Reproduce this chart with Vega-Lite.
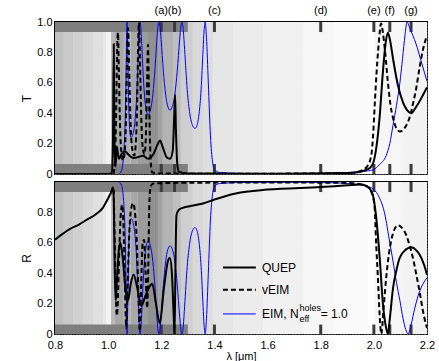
{
"$schema":"https://vega.github.io/schema/vega-lite/v6.json",
"padding":{"left":19,"top":4,"right":5,"bottom":0},
"spacing":8,
"bounds":"flush",
"datasets":{
"bg":[{"a":0.8,"b":0.83,"g":0.76},{"a":0.83,"b":0.868,"g":0.79},{"a":0.868,"b":0.905,"g":0.82},{"a":0.905,"b":0.943,"g":0.85},{"a":0.943,"b":0.981,"g":0.88},{"a":0.981,"b":0.992,"g":0.91},{"a":0.992,"b":1.011,"g":0.95},{"a":1.011,"b":1.026,"g":0.72},{"a":1.026,"b":1.056,"g":0.66},{"a":1.056,"b":1.085,"g":0.69},{"a":1.085,"b":1.112,"g":0.66},{"a":1.112,"b":1.15,"g":0.61},{"a":1.15,"b":1.188,"g":0.57},{"a":1.188,"b":1.206,"g":0.63},{"a":1.206,"b":1.244,"g":0.7},{"a":1.244,"b":1.274,"g":0.75},{"a":1.274,"b":1.319,"g":0.81},{"a":1.319,"b":1.357,"g":0.85},{"a":1.357,"b":1.395,"g":0.87},{"a":1.395,"b":1.47,"g":0.9},{"a":1.47,"b":1.583,"g":0.925},{"a":1.583,"b":1.733,"g":0.945},{"a":1.733,"b":1.846,"g":0.965},{"a":1.846,"b":1.978,"g":0.98},{"a":1.978,"b":2.004,"g":1.0},{"a":2.004,"b":2.11,"g":0.965},{"a":2.11,"b":2.2,"g":0.95}],
"marks":[{"lab":"(a)","x":1.2},{"lab":"(b)","x":1.25},{"lab":"(c)","x":1.4},{"lab":"(d)","x":1.8},{"lab":"(e)","x":2.0},{"lab":"(f)","x":2.06},{"lab":"(g)","x":2.14}],
"T":[
{"s":"QUEP","x":0.8,"y":0},{"s":"QUEP","x":1.0,"y":0},{"s":"QUEP","x":1.014,"y":0.005},{"s":"QUEP","x":1.018,"y":0.2},{"s":"QUEP","x":1.021,"y":0.855},{"s":"QUEP","x":1.024,"y":0.2},{"s":"QUEP","x":1.027,"y":0.05},{"s":"QUEP","x":1.03,"y":0.1},{"s":"QUEP","x":1.033,"y":0.18},{"s":"QUEP","x":1.037,"y":0.13},{"s":"QUEP","x":1.041,"y":0.1},{"s":"QUEP","x":1.05,"y":0.13},{"s":"QUEP","x":1.063,"y":0.15},{"s":"QUEP","x":1.075,"y":0.13},{"s":"QUEP","x":1.094,"y":0.105},{"s":"QUEP","x":1.11,"y":0.11},{"s":"QUEP","x":1.131,"y":0.12},{"s":"QUEP","x":1.15,"y":0.1},{"s":"QUEP","x":1.17,"y":0.13},{"s":"QUEP","x":1.185,"y":0.19},{"s":"QUEP","x":1.195,"y":0.22},{"s":"QUEP","x":1.205,"y":0.18},{"s":"QUEP","x":1.22,"y":0.11},{"s":"QUEP","x":1.233,"y":0.1},{"s":"QUEP","x":1.243,"y":0.15},{"s":"QUEP","x":1.249,"y":0.4},{"s":"QUEP","x":1.252,"y":0.52},{"s":"QUEP","x":1.255,"y":0.3},{"s":"QUEP","x":1.26,"y":0.07},{"s":"QUEP","x":1.266,"y":0.015},{"s":"QUEP","x":1.3,"y":0.004},{"s":"QUEP","x":1.6,"y":0.002},{"s":"QUEP","x":1.9,"y":0.006},{"s":"QUEP","x":1.95,"y":0.015},{"s":"QUEP","x":1.975,"y":0.03},{"s":"QUEP","x":1.985,"y":0.04},{"s":"QUEP","x":1.997,"y":0.07},{"s":"QUEP","x":2.009,"y":0.17},{"s":"QUEP","x":2.022,"y":0.38},{"s":"QUEP","x":2.034,"y":0.67},{"s":"QUEP","x":2.045,"y":0.87},{"s":"QUEP","x":2.053,"y":0.93},{"s":"QUEP","x":2.062,"y":0.87},{"s":"QUEP","x":2.072,"y":0.76},{"s":"QUEP","x":2.091,"y":0.58},{"s":"QUEP","x":2.11,"y":0.47},{"s":"QUEP","x":2.125,"y":0.42},{"s":"QUEP","x":2.141,"y":0.4},{"s":"QUEP","x":2.155,"y":0.43},{"s":"QUEP","x":2.166,"y":0.46},{"s":"QUEP","x":2.185,"y":0.52},{"s":"QUEP","x":2.2,"y":0.57},
{"s":"vEIM","x":1.02,"y":0},{"s":"vEIM","x":1.026,"y":0.1},{"s":"vEIM","x":1.03,"y":0.4},{"s":"vEIM","x":1.034,"y":0.82},{"s":"vEIM","x":1.037,"y":0.93},{"s":"vEIM","x":1.04,"y":0.7},{"s":"vEIM","x":1.045,"y":0.3},{"s":"vEIM","x":1.05,"y":0.14},{"s":"vEIM","x":1.056,"y":0.09},{"s":"vEIM","x":1.062,"y":0.14},{"s":"vEIM","x":1.067,"y":0.35},{"s":"vEIM","x":1.071,"y":0.75},{"s":"vEIM","x":1.075,"y":0.96},{"s":"vEIM","x":1.079,"y":0.7},{"s":"vEIM","x":1.085,"y":0.3},{"s":"vEIM","x":1.092,"y":0.15},{"s":"vEIM","x":1.098,"y":0.12},{"s":"vEIM","x":1.104,"y":0.2},{"s":"vEIM","x":1.109,"y":0.45},{"s":"vEIM","x":1.113,"y":0.85},{"s":"vEIM","x":1.116,"y":1.0},{"s":"vEIM","x":1.119,"y":0.8},{"s":"vEIM","x":1.125,"y":0.35},{"s":"vEIM","x":1.131,"y":0.16},{"s":"vEIM","x":1.137,"y":0.13},{"s":"vEIM","x":1.142,"y":0.25},{"s":"vEIM","x":1.146,"y":0.55},{"s":"vEIM","x":1.15,"y":0.85},{"s":"vEIM","x":1.153,"y":0.6},{"s":"vEIM","x":1.157,"y":0.25},{"s":"vEIM","x":1.161,"y":0.06},{"s":"vEIM","x":1.166,"y":0.01},{"s":"vEIM","x":1.2,"y":0.003},{"s":"vEIM","x":1.5,"y":0.002},{"s":"vEIM","x":1.9,"y":0.005},{"s":"vEIM","x":1.95,"y":0.02},{"s":"vEIM","x":1.975,"y":0.05},{"s":"vEIM","x":1.99,"y":0.12},{"s":"vEIM","x":1.997,"y":0.25},{"s":"vEIM","x":2.004,"y":0.48},{"s":"vEIM","x":2.01,"y":0.66},{"s":"vEIM","x":2.016,"y":0.81},{"s":"vEIM","x":2.022,"y":0.93},{"s":"vEIM","x":2.027,"y":0.99},{"s":"vEIM","x":2.034,"y":0.93},{"s":"vEIM","x":2.042,"y":0.81},{"s":"vEIM","x":2.053,"y":0.6},{"s":"vEIM","x":2.063,"y":0.45},{"s":"vEIM","x":2.072,"y":0.37},{"s":"vEIM","x":2.085,"y":0.3},{"s":"vEIM","x":2.098,"y":0.28},{"s":"vEIM","x":2.11,"y":0.29},{"s":"vEIM","x":2.125,"y":0.33},{"s":"vEIM","x":2.136,"y":0.38},{"s":"vEIM","x":2.147,"y":0.46},{"s":"vEIM","x":2.16,"y":0.57},{"s":"vEIM","x":2.173,"y":0.71},{"s":"vEIM","x":2.185,"y":0.82},{"s":"vEIM","x":2.196,"y":0.89},{"s":"vEIM","x":2.2,"y":0.91},
{"s":"EIM","x":1.04,"y":0},{"s":"EIM","x":1.05,"y":0.02},{"s":"EIM","x":1.058,"y":0.12},{"s":"EIM","x":1.064,"y":0.35},{"s":"EIM","x":1.068,"y":0.7},{"s":"EIM","x":1.071,"y":1.0},{"s":"EIM","x":1.074,"y":0.77},{"s":"EIM","x":1.077,"y":0.48},{"s":"EIM","x":1.08,"y":0.325},{"s":"EIM","x":1.083,"y":0.26},{"s":"EIM","x":1.086,"y":0.24},{"s":"EIM","x":1.0928,"y":0.26},{"s":"EIM","x":1.0996,"y":0.325},{"s":"EIM","x":1.1064,"y":0.48},{"s":"EIM","x":1.1132,"y":0.77},{"s":"EIM","x":1.1166,"y":0.93},{"s":"EIM","x":1.12,"y":1.0},{"s":"EIM","x":1.123,"y":0.963},{"s":"EIM","x":1.126,"y":0.87},{"s":"EIM","x":1.132,"y":0.65},{"s":"EIM","x":1.138,"y":0.494},{"s":"EIM","x":1.144,"y":0.414},{"s":"EIM","x":1.15,"y":0.39},{"s":"EIM","x":1.1582,"y":0.414},{"s":"EIM","x":1.1664,"y":0.494},{"s":"EIM","x":1.1746,"y":0.65},{"s":"EIM","x":1.1828,"y":0.87},{"s":"EIM","x":1.1869,"y":0.963},{"s":"EIM","x":1.191,"y":1.0},{"s":"EIM","x":1.1952,"y":0.967},{"s":"EIM","x":1.1994,"y":0.883},{"s":"EIM","x":1.2078,"y":0.677},{"s":"EIM","x":1.2162,"y":0.525},{"s":"EIM","x":1.2246,"y":0.444},{"s":"EIM","x":1.233,"y":0.42},{"s":"EIM","x":1.242,"y":0.444},{"s":"EIM","x":1.251,"y":0.525},{"s":"EIM","x":1.26,"y":0.677},{"s":"EIM","x":1.269,"y":0.883},{"s":"EIM","x":1.2735,"y":0.967},{"s":"EIM","x":1.278,"y":1.0},{"s":"EIM","x":1.2829,"y":0.946},{"s":"EIM","x":1.2878,"y":0.818},{"s":"EIM","x":1.2976,"y":0.554},{"s":"EIM","x":1.3074,"y":0.396},{"s":"EIM","x":1.3172,"y":0.321},{"s":"EIM","x":1.327,"y":0.3},{"s":"EIM","x":1.3346,"y":0.321},{"s":"EIM","x":1.3422,"y":0.396},{"s":"EIM","x":1.3498,"y":0.554},{"s":"EIM","x":1.3574,"y":0.818},{"s":"EIM","x":1.3612,"y":0.946},{"s":"EIM","x":1.365,"y":1.0},{"s":"EIM","x":1.37,"y":0.9},{"s":"EIM","x":1.377,"y":0.6},{"s":"EIM","x":1.385,"y":0.25},{"s":"EIM","x":1.393,"y":0.08},{"s":"EIM","x":1.4,"y":0.03},{"s":"EIM","x":1.42,"y":0.01},{"s":"EIM","x":1.5,"y":0.003},{"s":"EIM","x":1.7,"y":0.002},{"s":"EIM","x":1.85,"y":0.005},{"s":"EIM","x":1.9,"y":0.01},{"s":"EIM","x":1.95,"y":0.015},{"s":"EIM","x":1.975,"y":0.02},{"s":"EIM","x":2.0,"y":0.03},{"s":"EIM","x":2.02,"y":0.06},{"s":"EIM","x":2.046,"y":0.12},{"s":"EIM","x":2.06,"y":0.2},{"s":"EIM","x":2.072,"y":0.32},{"s":"EIM","x":2.085,"y":0.45},{"s":"EIM","x":2.098,"y":0.6},{"s":"EIM","x":2.108,"y":0.76},{"s":"EIM","x":2.117,"y":0.91},{"s":"EIM","x":2.125,"y":1.0},{"s":"EIM","x":2.135,"y":0.96},{"s":"EIM","x":2.147,"y":0.91},{"s":"EIM","x":2.159,"y":0.855},{"s":"EIM","x":2.175,"y":0.76},{"s":"EIM","x":2.19,"y":0.67},{"s":"EIM","x":2.2,"y":0.61}
],
"R":[
{"s":"QUEP","x":0.8,"y":0.62},{"s":"QUEP","x":0.83,"y":0.66},{"s":"QUEP","x":0.855,"y":0.69},{"s":"QUEP","x":0.89,"y":0.72},{"s":"QUEP","x":0.918,"y":0.75},{"s":"QUEP","x":0.955,"y":0.79},{"s":"QUEP","x":0.98,"y":0.83},{"s":"QUEP","x":0.993,"y":0.87},{"s":"QUEP","x":1.005,"y":0.91},{"s":"QUEP","x":1.012,"y":0.935},{"s":"QUEP","x":1.018,"y":0.965},{"s":"QUEP","x":1.021,"y":0.9},{"s":"QUEP","x":1.024,"y":0.5},{"s":"QUEP","x":1.028,"y":0.22},{"s":"QUEP","x":1.033,"y":0.35},{"s":"QUEP","x":1.04,"y":0.55},{"s":"QUEP","x":1.046,"y":0.6},{"s":"QUEP","x":1.055,"y":0.5},{"s":"QUEP","x":1.065,"y":0.3},{"s":"QUEP","x":1.075,"y":0.22},{"s":"QUEP","x":1.085,"y":0.33},{"s":"QUEP","x":1.096,"y":0.39},{"s":"QUEP","x":1.11,"y":0.3},{"s":"QUEP","x":1.125,"y":0.185},{"s":"QUEP","x":1.14,"y":0.25},{"s":"QUEP","x":1.155,"y":0.31},{"s":"QUEP","x":1.166,"y":0.33},{"s":"QUEP","x":1.18,"y":0.2},{"s":"QUEP","x":1.194,"y":0.07},{"s":"QUEP","x":1.21,"y":0.3},{"s":"QUEP","x":1.225,"y":0.48},{"s":"QUEP","x":1.232,"y":0.5},{"s":"QUEP","x":1.24,"y":0.4},{"s":"QUEP","x":1.246,"y":0.15},{"s":"QUEP","x":1.25,"y":0.0},{"s":"QUEP","x":1.253,"y":0.4},{"s":"QUEP","x":1.257,"y":0.78},{"s":"QUEP","x":1.265,"y":0.815},{"s":"QUEP","x":1.28,"y":0.83},{"s":"QUEP","x":1.32,"y":0.845},{"s":"QUEP","x":1.36,"y":0.86},{"s":"QUEP","x":1.4,"y":0.885},{"s":"QUEP","x":1.48,"y":0.925},{"s":"QUEP","x":1.6,"y":0.95},{"s":"QUEP","x":1.8,"y":0.967},{"s":"QUEP","x":1.9,"y":0.978},{"s":"QUEP","x":1.95,"y":0.983},{"s":"QUEP","x":1.97,"y":0.975},{"s":"QUEP","x":1.985,"y":0.955},{"s":"QUEP","x":1.997,"y":0.91},{"s":"QUEP","x":2.008,"y":0.78},{"s":"QUEP","x":2.022,"y":0.5},{"s":"QUEP","x":2.034,"y":0.2},{"s":"QUEP","x":2.045,"y":0.05},{"s":"QUEP","x":2.053,"y":0.0},{"s":"QUEP","x":2.06,"y":0.1},{"s":"QUEP","x":2.072,"y":0.3},{"s":"QUEP","x":2.085,"y":0.42},{"s":"QUEP","x":2.097,"y":0.5},{"s":"QUEP","x":2.12,"y":0.555},{"s":"QUEP","x":2.141,"y":0.57},{"s":"QUEP","x":2.16,"y":0.55},{"s":"QUEP","x":2.173,"y":0.52},{"s":"QUEP","x":2.19,"y":0.45},{"s":"QUEP","x":2.2,"y":0.39},
{"s":"vEIM","x":1.021,"y":0.95},{"s":"vEIM","x":1.025,"y":0.6},{"s":"vEIM","x":1.029,"y":0.25},{"s":"vEIM","x":1.033,"y":0.12},{"s":"vEIM","x":1.037,"y":0.25},{"s":"vEIM","x":1.042,"y":0.55},{"s":"vEIM","x":1.048,"y":0.8},{"s":"vEIM","x":1.053,"y":0.85},{"s":"vEIM","x":1.058,"y":0.7},{"s":"vEIM","x":1.063,"y":0.35},{"s":"vEIM","x":1.068,"y":0.04},{"s":"vEIM","x":1.073,"y":0.3},{"s":"vEIM","x":1.08,"y":0.68},{"s":"vEIM","x":1.087,"y":0.83},{"s":"vEIM","x":1.094,"y":0.86},{"s":"vEIM","x":1.101,"y":0.8},{"s":"vEIM","x":1.108,"y":0.6},{"s":"vEIM","x":1.114,"y":0.25},{"s":"vEIM","x":1.119,"y":0.02},{"s":"vEIM","x":1.124,"y":0.3},{"s":"vEIM","x":1.13,"y":0.6},{"s":"vEIM","x":1.135,"y":0.62},{"s":"vEIM","x":1.141,"y":0.4},{"s":"vEIM","x":1.147,"y":0.17},{"s":"vEIM","x":1.151,"y":0.45},{"s":"vEIM","x":1.155,"y":0.85},{"s":"vEIM","x":1.16,"y":0.97},{"s":"vEIM","x":1.17,"y":0.99},{"s":"vEIM","x":1.3,"y":0.995},{"s":"vEIM","x":1.6,"y":0.997},{"s":"vEIM","x":1.9,"y":0.994},{"s":"vEIM","x":1.95,"y":0.985},{"s":"vEIM","x":1.975,"y":0.97},{"s":"vEIM","x":1.989,"y":0.94},{"s":"vEIM","x":1.997,"y":0.9},{"s":"vEIM","x":2.003,"y":0.83},{"s":"vEIM","x":2.008,"y":0.62},{"s":"vEIM","x":2.015,"y":0.38},{"s":"vEIM","x":2.022,"y":0.12},{"s":"vEIM","x":2.028,"y":0.0},{"s":"vEIM","x":2.037,"y":0.18},{"s":"vEIM","x":2.047,"y":0.38},{"s":"vEIM","x":2.057,"y":0.53},{"s":"vEIM","x":2.066,"y":0.62},{"s":"vEIM","x":2.078,"y":0.69},{"s":"vEIM","x":2.091,"y":0.715},{"s":"vEIM","x":2.105,"y":0.7},{"s":"vEIM","x":2.122,"y":0.65},{"s":"vEIM","x":2.135,"y":0.58},{"s":"vEIM","x":2.147,"y":0.5},{"s":"vEIM","x":2.16,"y":0.39},{"s":"vEIM","x":2.173,"y":0.27},{"s":"vEIM","x":2.185,"y":0.15},{"s":"vEIM","x":2.191,"y":0.1},{"s":"vEIM","x":2.2,"y":0.04},
{"s":"EIM","x":1.04,"y":1.0},{"s":"EIM","x":1.05,"y":0.98},{"s":"EIM","x":1.058,"y":0.88},{"s":"EIM","x":1.064,"y":0.65},{"s":"EIM","x":1.068,"y":0.3},{"s":"EIM","x":1.071,"y":0},{"s":"EIM","x":1.074,"y":0.23},{"s":"EIM","x":1.077,"y":0.52},{"s":"EIM","x":1.08,"y":0.675},{"s":"EIM","x":1.083,"y":0.74},{"s":"EIM","x":1.086,"y":0.76},{"s":"EIM","x":1.0928,"y":0.74},{"s":"EIM","x":1.0996,"y":0.675},{"s":"EIM","x":1.1064,"y":0.52},{"s":"EIM","x":1.1132,"y":0.23},{"s":"EIM","x":1.1166,"y":0.07},{"s":"EIM","x":1.12,"y":0},{"s":"EIM","x":1.123,"y":0.037},{"s":"EIM","x":1.126,"y":0.13},{"s":"EIM","x":1.132,"y":0.35},{"s":"EIM","x":1.138,"y":0.506},{"s":"EIM","x":1.144,"y":0.586},{"s":"EIM","x":1.15,"y":0.61},{"s":"EIM","x":1.1582,"y":0.586},{"s":"EIM","x":1.1664,"y":0.506},{"s":"EIM","x":1.1746,"y":0.35},{"s":"EIM","x":1.1828,"y":0.13},{"s":"EIM","x":1.1869,"y":0.037},{"s":"EIM","x":1.191,"y":0},{"s":"EIM","x":1.1952,"y":0.033},{"s":"EIM","x":1.1994,"y":0.117},{"s":"EIM","x":1.2078,"y":0.323},{"s":"EIM","x":1.2162,"y":0.475},{"s":"EIM","x":1.2246,"y":0.556},{"s":"EIM","x":1.233,"y":0.58},{"s":"EIM","x":1.242,"y":0.556},{"s":"EIM","x":1.251,"y":0.475},{"s":"EIM","x":1.26,"y":0.323},{"s":"EIM","x":1.269,"y":0.117},{"s":"EIM","x":1.2735,"y":0.033},{"s":"EIM","x":1.278,"y":0},{"s":"EIM","x":1.2829,"y":0.054},{"s":"EIM","x":1.2878,"y":0.182},{"s":"EIM","x":1.2976,"y":0.446},{"s":"EIM","x":1.3074,"y":0.604},{"s":"EIM","x":1.3172,"y":0.679},{"s":"EIM","x":1.327,"y":0.7},{"s":"EIM","x":1.3346,"y":0.679},{"s":"EIM","x":1.3422,"y":0.604},{"s":"EIM","x":1.3498,"y":0.446},{"s":"EIM","x":1.3574,"y":0.182},{"s":"EIM","x":1.3612,"y":0.054},{"s":"EIM","x":1.365,"y":0},{"s":"EIM","x":1.37,"y":0.1},{"s":"EIM","x":1.377,"y":0.4},{"s":"EIM","x":1.385,"y":0.75},{"s":"EIM","x":1.393,"y":0.92},{"s":"EIM","x":1.4,"y":0.97},{"s":"EIM","x":1.42,"y":0.99},{"s":"EIM","x":1.5,"y":0.997},{"s":"EIM","x":1.7,"y":0.998},{"s":"EIM","x":1.85,"y":0.995},{"s":"EIM","x":1.9,"y":0.99},{"s":"EIM","x":1.95,"y":0.982},{"s":"EIM","x":1.98,"y":0.97},{"s":"EIM","x":2.0,"y":0.95},{"s":"EIM","x":2.02,"y":0.9},{"s":"EIM","x":2.041,"y":0.79},{"s":"EIM","x":2.06,"y":0.6},{"s":"EIM","x":2.072,"y":0.48},{"s":"EIM","x":2.085,"y":0.34},{"s":"EIM","x":2.098,"y":0.22},{"s":"EIM","x":2.11,"y":0.1},{"s":"EIM","x":2.12,"y":0.03},{"s":"EIM","x":2.129,"y":0},{"s":"EIM","x":2.14,"y":0.06},{"s":"EIM","x":2.154,"y":0.17},{"s":"EIM","x":2.17,"y":0.27},{"s":"EIM","x":2.185,"y":0.33},{"s":"EIM","x":2.2,"y":0.37}
]
},
"vconcat":[
{
"width":372,"height":152,
"layer":[
{"data":{"name":"bg"},"mark":{"type":"rect"},
 "encoding":{
  "x":{"field":"a","type":"quantitative","scale":{"domain":[0.8,2.2],"nice":false,"zero":false},"axis":{"orient":"top","values":[0.8,1,1.2,1.4,1.6,1.8,2,2.2],"labels":false,"title":null}},
  "x2":{"field":"b"},
  "y":{"datum":0,"type":"quantitative","scale":{"domain":[0,1],"nice":false},"axis":{"values":[0,0.2,0.4,0.6,0.8,1],"labelExpr":"datum.value == 0 ? '0' : format(datum.value, '.1f')","title":"T","labelOverlap":false}},
  "y2":{"datum":1},
  "color":{"field":"g","type":"quantitative","scale":{"domain":[0,1],"range":["#000000","#ffffff"],"interpolate":"rgb"},"legend":null}}},
{"data":{"values":[{}]},"mark":{"type":"rect","color":"#7f7f7f"},"encoding":{"x":{"datum":0.8,"type":"quantitative","axis":{"orient":"top","values":[0.8,1,1.2,1.4,1.6,1.8,2,2.2],"labels":false,"title":null}},"x2":{"datum":1.3},"y":{"datum":0.934,"type":"quantitative","axis":{"values":[0,0.2,0.4,0.6,0.8,1],"labelExpr":"datum.value == 0 ? '0' : format(datum.value, '.1f')","title":"T","labelOverlap":false}},"y2":{"datum":1}}},
{"data":{"values":[{}]},"mark":{"type":"rect","color":"#7f7f7f"},"encoding":{"x":{"datum":0.8,"type":"quantitative","axis":{"orient":"top","values":[0.8,1,1.2,1.4,1.6,1.8,2,2.2],"labels":false,"title":null}},"x2":{"datum":1.3},"y":{"datum":0,"type":"quantitative","axis":{"values":[0,0.2,0.4,0.6,0.8,1],"labelExpr":"datum.value == 0 ? '0' : format(datum.value, '.1f')","title":"T","labelOverlap":false}},"y2":{"datum":0.066}}},
{"data":{"name":"marks"},"mark":{"type":"rule","color":"#3c3c3c","strokeWidth":3},"encoding":{"x":{"field":"x","type":"quantitative","axis":{"orient":"top","values":[0.8,1,1.2,1.4,1.6,1.8,2,2.2],"labels":false,"title":null}},"y":{"datum":0.934,"type":"quantitative","axis":{"values":[0,0.2,0.4,0.6,0.8,1],"labelExpr":"datum.value == 0 ? '0' : format(datum.value, '.1f')","title":"T","labelOverlap":false}},"y2":{"datum":1}}},
{"data":{"name":"marks"},"mark":{"type":"rule","color":"#3c3c3c","strokeWidth":3},"encoding":{"x":{"field":"x","type":"quantitative","axis":{"orient":"top","values":[0.8,1,1.2,1.4,1.6,1.8,2,2.2],"labels":false,"title":null}},"y":{"datum":0,"type":"quantitative","axis":{"values":[0,0.2,0.4,0.6,0.8,1],"labelExpr":"datum.value == 0 ? '0' : format(datum.value, '.1f')","title":"T","labelOverlap":false}},"y2":{"datum":0.066}}},
{"data":{"name":"T"},"transform":[{"filter":"datum.s=='EIM'"}],"mark":{"type":"line","color":"#0000ff","strokeWidth":1,"interpolate":"monotone","clip":true},"encoding":{"x":{"field":"x","type":"quantitative","axis":{"orient":"top","values":[0.8,1,1.2,1.4,1.6,1.8,2,2.2],"labels":false,"title":null}},"y":{"field":"y","type":"quantitative","axis":{"values":[0,0.2,0.4,0.6,0.8,1],"labelExpr":"datum.value == 0 ? '0' : format(datum.value, '.1f')","title":"T","labelOverlap":false}}}},
{"data":{"name":"T"},"transform":[{"filter":"datum.s=='vEIM'"}],"mark":{"type":"line","color":"#000000","strokeWidth":2,"strokeDash":[5,3],"interpolate":"monotone","clip":true},"encoding":{"x":{"field":"x","type":"quantitative","axis":{"orient":"top","values":[0.8,1,1.2,1.4,1.6,1.8,2,2.2],"labels":false,"title":null}},"y":{"field":"y","type":"quantitative","axis":{"values":[0,0.2,0.4,0.6,0.8,1],"labelExpr":"datum.value == 0 ? '0' : format(datum.value, '.1f')","title":"T","labelOverlap":false}}}},
{"data":{"name":"T"},"transform":[{"filter":"datum.s=='QUEP'"}],"mark":{"type":"line","color":"#000000","strokeWidth":2,"interpolate":"monotone","clip":true},"encoding":{"x":{"field":"x","type":"quantitative","axis":{"orient":"top","values":[0.8,1,1.2,1.4,1.6,1.8,2,2.2],"labels":false,"title":null}},"y":{"field":"y","type":"quantitative","axis":{"values":[0,0.2,0.4,0.6,0.8,1],"labelExpr":"datum.value == 0 ? '0' : format(datum.value, '.1f')","title":"T","labelOverlap":false}}}},
{"data":{"name":"marks"},"mark":{"type":"text","fontSize":11,"font":"Liberation Sans","color":"#000","baseline":"middle","dy":-11},"encoding":{"x":{"field":"x","type":"quantitative","axis":{"orient":"top","values":[0.8,1,1.2,1.4,1.6,1.8,2,2.2],"labels":false,"title":null}},"y":{"datum":1,"type":"quantitative","axis":{"values":[0,0.2,0.4,0.6,0.8,1],"labelExpr":"datum.value == 0 ? '0' : format(datum.value, '.1f')","title":"T","labelOverlap":false}},"text":{"field":"lab"}}}
]
},
{
"width":372,"height":152,
"layer":[
{"data":{"name":"bg"},"mark":{"type":"rect"},
 "encoding":{
  "x":{"field":"a","type":"quantitative","scale":{"domain":[0.8,2.2],"nice":false,"zero":false},"axis":{"values":[0.8,1,1.2,1.4,1.6,1.8,2,2.2],"format":".1f","title":"λ [μm]","labelPadding":5,"titlePadding":0,"titleFontSize":11}},
  "x2":{"field":"b"},
  "y":{"datum":0,"type":"quantitative","scale":{"domain":[0,1],"nice":false},"axis":{"values":[0,0.2,0.4,0.6,0.8],"labelExpr":"datum.value == 0 ? '0' : format(datum.value, '.1f')","title":"R","labelOverlap":false}},
  "y2":{"datum":1},
  "color":{"field":"g","type":"quantitative","scale":{"domain":[0,1],"range":["#000000","#ffffff"],"interpolate":"rgb"},"legend":null}}},
{"data":{"values":[{}]},"mark":{"type":"rect","color":"#7f7f7f"},"encoding":{"x":{"datum":0.8,"type":"quantitative","axis":{"values":[0.8,1,1.2,1.4,1.6,1.8,2,2.2],"format":".1f","title":"λ [μm]","labelPadding":5,"titlePadding":0,"titleFontSize":11}},"x2":{"datum":1.3},"y":{"datum":0.934,"type":"quantitative","axis":{"values":[0,0.2,0.4,0.6,0.8],"labelExpr":"datum.value == 0 ? '0' : format(datum.value, '.1f')","title":"R","labelOverlap":false}},"y2":{"datum":1}}},
{"data":{"values":[{}]},"mark":{"type":"rect","color":"#7f7f7f"},"encoding":{"x":{"datum":0.8,"type":"quantitative","axis":{"values":[0.8,1,1.2,1.4,1.6,1.8,2,2.2],"format":".1f","title":"λ [μm]","labelPadding":5,"titlePadding":0,"titleFontSize":11}},"x2":{"datum":1.3},"y":{"datum":0,"type":"quantitative","axis":{"values":[0,0.2,0.4,0.6,0.8],"labelExpr":"datum.value == 0 ? '0' : format(datum.value, '.1f')","title":"R","labelOverlap":false}},"y2":{"datum":0.062}}},
{"data":{"name":"marks"},"mark":{"type":"rule","color":"#3c3c3c","strokeWidth":3},"encoding":{"x":{"field":"x","type":"quantitative","axis":{"values":[0.8,1,1.2,1.4,1.6,1.8,2,2.2],"format":".1f","title":"λ [μm]","labelPadding":5,"titlePadding":0,"titleFontSize":11}},"y":{"datum":0.934,"type":"quantitative","axis":{"values":[0,0.2,0.4,0.6,0.8],"labelExpr":"datum.value == 0 ? '0' : format(datum.value, '.1f')","title":"R","labelOverlap":false}},"y2":{"datum":1}}},
{"data":{"name":"marks"},"mark":{"type":"rule","color":"#3c3c3c","strokeWidth":3},"encoding":{"x":{"field":"x","type":"quantitative","axis":{"values":[0.8,1,1.2,1.4,1.6,1.8,2,2.2],"format":".1f","title":"λ [μm]","labelPadding":5,"titlePadding":0,"titleFontSize":11}},"y":{"datum":0,"type":"quantitative","axis":{"values":[0,0.2,0.4,0.6,0.8],"labelExpr":"datum.value == 0 ? '0' : format(datum.value, '.1f')","title":"R","labelOverlap":false}},"y2":{"datum":0.062}}},
{"data":{"name":"R"},"transform":[{"filter":"datum.s=='EIM'"}],"mark":{"type":"line","color":"#0000ff","strokeWidth":1,"interpolate":"monotone","clip":true},"encoding":{"x":{"field":"x","type":"quantitative","axis":{"values":[0.8,1,1.2,1.4,1.6,1.8,2,2.2],"format":".1f","title":"λ [μm]","labelPadding":5,"titlePadding":0,"titleFontSize":11}},"y":{"field":"y","type":"quantitative","axis":{"values":[0,0.2,0.4,0.6,0.8],"labelExpr":"datum.value == 0 ? '0' : format(datum.value, '.1f')","title":"R","labelOverlap":false}}}},
{"data":{"name":"R"},"transform":[{"filter":"datum.s=='vEIM'"}],"mark":{"type":"line","color":"#000000","strokeWidth":2,"strokeDash":[5,3],"interpolate":"monotone","clip":true},"encoding":{"x":{"field":"x","type":"quantitative","axis":{"values":[0.8,1,1.2,1.4,1.6,1.8,2,2.2],"format":".1f","title":"λ [μm]","labelPadding":5,"titlePadding":0,"titleFontSize":11}},"y":{"field":"y","type":"quantitative","axis":{"values":[0,0.2,0.4,0.6,0.8],"labelExpr":"datum.value == 0 ? '0' : format(datum.value, '.1f')","title":"R","labelOverlap":false}}}},
{"data":{"name":"R"},"transform":[{"filter":"datum.s=='QUEP'"}],"mark":{"type":"line","color":"#000000","strokeWidth":2,"interpolate":"monotone","clip":true},"encoding":{"x":{"field":"x","type":"quantitative","axis":{"values":[0.8,1,1.2,1.4,1.6,1.8,2,2.2],"format":".1f","title":"λ [μm]","labelPadding":5,"titlePadding":0,"titleFontSize":11}},"y":{"field":"y","type":"quantitative","axis":{"values":[0,0.2,0.4,0.6,0.8],"labelExpr":"datum.value == 0 ? '0' : format(datum.value, '.1f')","title":"R","labelOverlap":false}}}},
{"data":{"values":[{}]},"mark":{"type":"rule","color":"#000000","strokeWidth":2},"encoding":{"x":{"datum":1.432,"type":"quantitative","axis":{"values":[0.8,1,1.2,1.4,1.6,1.8,2,2.2],"format":".1f","title":"λ [μm]","labelPadding":5,"titlePadding":0,"titleFontSize":11}},"x2":{"datum":1.556},"y":{"datum":0.437,"type":"quantitative","axis":{"values":[0,0.2,0.4,0.6,0.8],"labelExpr":"datum.value == 0 ? '0' : format(datum.value, '.1f')","title":"R","labelOverlap":false}}}},
{"data":{"values":[{}]},"mark":{"type":"rule","color":"#000000","strokeWidth":2,"strokeDash":[5,3]},"encoding":{"x":{"datum":1.432,"type":"quantitative","axis":{"values":[0.8,1,1.2,1.4,1.6,1.8,2,2.2],"format":".1f","title":"λ [μm]","labelPadding":5,"titlePadding":0,"titleFontSize":11}},"x2":{"datum":1.556},"y":{"datum":0.291,"type":"quantitative","axis":{"values":[0,0.2,0.4,0.6,0.8],"labelExpr":"datum.value == 0 ? '0' : format(datum.value, '.1f')","title":"R","labelOverlap":false}}}},
{"data":{"values":[{}]},"mark":{"type":"rule","color":"#0000ff","strokeWidth":1},"encoding":{"x":{"datum":1.432,"type":"quantitative","axis":{"values":[0.8,1,1.2,1.4,1.6,1.8,2,2.2],"format":".1f","title":"λ [μm]","labelPadding":5,"titlePadding":0,"titleFontSize":11}},"x2":{"datum":1.556},"y":{"datum":0.132,"type":"quantitative","axis":{"values":[0,0.2,0.4,0.6,0.8],"labelExpr":"datum.value == 0 ? '0' : format(datum.value, '.1f')","title":"R","labelOverlap":false}}}},
{"data":{"values":[{}]},"mark":{"type":"text","fontSize":12,"font":"Liberation Sans","align":"left","baseline":"middle","color":"#000"},"encoding":{"x":{"datum":1.579,"type":"quantitative","axis":{"values":[0.8,1,1.2,1.4,1.6,1.8,2,2.2],"format":".1f","title":"λ [μm]","labelPadding":5,"titlePadding":0,"titleFontSize":11}},"y":{"datum":0.437,"type":"quantitative","axis":{"values":[0,0.2,0.4,0.6,0.8],"labelExpr":"datum.value == 0 ? '0' : format(datum.value, '.1f')","title":"R","labelOverlap":false}},"text":{"value":"QUEP"}}},
{"data":{"values":[{}]},"mark":{"type":"text","fontSize":12,"font":"Liberation Sans","align":"left","baseline":"middle","color":"#000"},"encoding":{"x":{"datum":1.579,"type":"quantitative","axis":{"values":[0.8,1,1.2,1.4,1.6,1.8,2,2.2],"format":".1f","title":"λ [μm]","labelPadding":5,"titlePadding":0,"titleFontSize":11}},"y":{"datum":0.291,"type":"quantitative","axis":{"values":[0,0.2,0.4,0.6,0.8],"labelExpr":"datum.value == 0 ? '0' : format(datum.value, '.1f')","title":"R","labelOverlap":false}},"text":{"value":"vEIM"}}},
{"data":{"values":[{}]},"mark":{"type":"text","fontSize":12,"font":"Liberation Sans","align":"left","baseline":"middle","color":"#000"},"encoding":{"x":{"datum":1.579,"type":"quantitative","axis":{"values":[0.8,1,1.2,1.4,1.6,1.8,2,2.2],"format":".1f","title":"λ [μm]","labelPadding":5,"titlePadding":0,"titleFontSize":11}},"y":{"datum":0.132,"type":"quantitative","axis":{"values":[0,0.2,0.4,0.6,0.8],"labelExpr":"datum.value == 0 ? '0' : format(datum.value, '.1f')","title":"R","labelOverlap":false}},"text":{"value":"EIM, N"}}},
{"data":{"values":[{}]},"mark":{"type":"text","fontSize":9,"font":"Liberation Sans","align":"left","baseline":"middle","color":"#000","dy":-6},"encoding":{"x":{"datum":1.72,"type":"quantitative","axis":{"values":[0.8,1,1.2,1.4,1.6,1.8,2,2.2],"format":".1f","title":"λ [μm]","labelPadding":5,"titlePadding":0,"titleFontSize":11}},"y":{"datum":0.132,"type":"quantitative","axis":{"values":[0,0.2,0.4,0.6,0.8],"labelExpr":"datum.value == 0 ? '0' : format(datum.value, '.1f')","title":"R","labelOverlap":false}},"text":{"value":"holes"}}},
{"data":{"values":[{}]},"mark":{"type":"text","fontSize":9,"font":"Liberation Sans","align":"left","baseline":"middle","color":"#000","dy":5},"encoding":{"x":{"datum":1.72,"type":"quantitative","axis":{"values":[0.8,1,1.2,1.4,1.6,1.8,2,2.2],"format":".1f","title":"λ [μm]","labelPadding":5,"titlePadding":0,"titleFontSize":11}},"y":{"datum":0.132,"type":"quantitative","axis":{"values":[0,0.2,0.4,0.6,0.8],"labelExpr":"datum.value == 0 ? '0' : format(datum.value, '.1f')","title":"R","labelOverlap":false}},"text":{"value":"eff"}}},
{"data":{"values":[{}]},"mark":{"type":"text","fontSize":12,"font":"Liberation Sans","align":"left","baseline":"middle","color":"#000"},"encoding":{"x":{"datum":1.8,"type":"quantitative","axis":{"values":[0.8,1,1.2,1.4,1.6,1.8,2,2.2],"format":".1f","title":"λ [μm]","labelPadding":5,"titlePadding":0,"titleFontSize":11}},"y":{"datum":0.132,"type":"quantitative","axis":{"values":[0,0.2,0.4,0.6,0.8],"labelExpr":"datum.value == 0 ? '0' : format(datum.value, '.1f')","title":"R","labelOverlap":false}},"text":{"value":"= 1.0"}}}
]
}
],
"config":{
 "font":"Liberation Sans",
 "view":{"stroke":"#000000","strokeWidth":2},
 "axis":{"labelFont":"Liberation Sans","labelFontSize":11,"labelColor":"#000","titleFont":"Liberation Sans","titleFontSize":12,"titleFontWeight":"normal","titleColor":"#000","ticks":false,"domain":false,"grid":true,"gridColor":"#8c8c8c","gridDash":[1,2],"gridWidth":1,"labelFlush":false,"labelOverlap":false,"labelPadding":3,"titlePadding":3,"zindex":1}
}
}
